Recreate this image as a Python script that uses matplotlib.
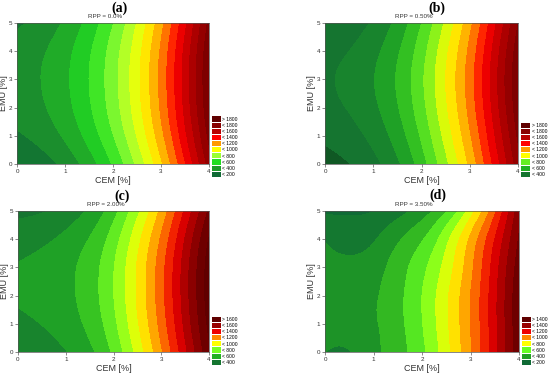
import numpy as np
import matplotlib
matplotlib.use("Agg")
import matplotlib.pyplot as plt
import matplotlib.tri as mtri
from matplotlib.colors import to_rgb
from matplotlib.patches import Patch

plt.rcParams['font.family'] = ['Liberation Sans', 'DejaVu Sans']

# grid: columns = CEM, rows = EMU (bottom row first)
cem = [0, 0.5, 1, 1.5, 2, 2.5, 3, 3.5, 4]
emu = [0, 1, 2, 3, 4, 5]

# (a) RPP = 0.0%
z_a = [[100, 150, 230, 350, 510, 720, 980, 1290, 1640],
       [185, 235, 315, 435, 595, 805, 1065, 1375, 1725],
       [235, 285, 365, 485, 645, 855, 1115, 1425, 1775],
       [250, 300, 380, 500, 660, 870, 1130, 1440, 1790],
       [235, 285, 365, 485, 645, 855, 1115, 1425, 1775],
       [185, 235, 315, 435, 595, 805, 1065, 1375, 1725]]
tops_a = [200, 400, 600, 800, 1000, 1200, 1400, 1600, 1800]
cols_a = ['#0f6a35', '#1f9a2a', '#22dd22', '#99ff33', '#ffff00',
          '#ff9900', '#ff0000', '#b80000', '#880000', '#600000']

# (b) RPP = 0.50%
z_b = [[157, 197, 267, 382, 552, 772, 1022, 1322, 1652],
       [220, 260, 330, 445, 615, 835, 1085, 1385, 1715],
       [267, 307, 377, 492, 662, 882, 1132, 1432, 1762],
       [285, 325, 395, 510, 680, 900, 1150, 1450, 1780],
       [260, 300, 370, 485, 655, 875, 1125, 1425, 1755],
       [204, 244, 314, 429, 599, 819, 1069, 1369, 1699]]
tops_b = [400, 600, 800, 1000, 1200, 1400, 1600, 1800]
cols_b = ['#157530', '#22b022', '#66ee22', '#ffff00', '#ff9900',
          '#ff0000', '#b80000', '#880000', '#600000']

# (c) RPP = 2.00%
z_c = [[330, 350, 395, 475, 620, 835, 1085, 1375, 1675],
       [382, 402, 447, 527, 672, 887, 1137, 1427, 1727],
       [407, 427, 472, 552, 697, 912, 1162, 1452, 1752],
       [404, 424, 469, 549, 694, 909, 1159, 1449, 1749],
       [360, 380, 425, 505, 650, 865, 1115, 1405, 1705],
       [272, 292, 337, 417, 562, 777, 1027, 1317, 1617]]
tops_c = [400, 600, 800, 1000, 1200, 1400, 1600]
cols_c = ['#157530', '#22b022', '#77ff22', '#ffff00', '#ff8800',
          '#ee0000', '#990000', '#600000']

# (d) RPP = 3.50%
z_d = [[200, 195, 270, 360, 475, 665, 890, 1165, 1475],
       [230, 235, 285, 370, 495, 680, 900, 1170, 1480],
       [235, 245, 285, 370, 500, 680, 900, 1170, 1480],
       [220, 220, 255, 350, 470, 640, 870, 1150, 1450],
       [193, 165, 190, 285, 390, 570, 820, 1100, 1410],
       [85, 85, 100, 160, 250, 390, 650, 980, 1360]]
tops_d = [200, 400, 600, 800, 1000, 1200, 1400]
cols_d = ['#0f6a35', '#22a022', '#66ff22', '#ffff00', '#ff8800',
          '#ee0000', '#990000', '#600000']

levels = np.arange(0, 2001, 100)

W, H = 550, 375
fig = plt.figure(figsize=(W / 100, H / 100), dpi=100)


def px_rect(left, top, right, bottom):
    return [left / W, 1 - bottom / H, (right - left) / W, (bottom - top) / H]


def draw(rect, letter, letter_xy, rpp, z, tops, cols):
    ax = fig.add_axes(rect)
    X, Y = np.meshgrid(cem, emu)
    tri = mtri.Triangulation(X.ravel(), Y.ravel())
    tri_f, z_f = mtri.UniformTriRefiner(tri).refine_field(
        np.array(z, float).ravel(), subdiv=4)

    anchors = [t - 100 for t in tops] + [tops[-1] + 100]
    rgb = np.array([to_rgb(c) for c in cols])
    band_cols = []
    for lo in levels[:-1]:
        mid = lo + 50
        c = [np.interp(mid, anchors, rgb[:, k]) for k in range(3)]
        if mid < anchors[0] - 100:
            c = [v * 0.75 for v in c]
        band_cols.append(c)
    ax.tricontourf(tri_f, z_f, levels=levels, colors=band_cols)

    ax.set_xlim(0, 4)
    ax.set_ylim(0, 5)
    ax.set_xticks([0, 1, 2, 3, 4])
    ax.set_yticks([0, 1, 2, 3, 4, 5])
    ax.tick_params(labelsize=4.5, length=2, width=0.4, pad=1.5, colors='#333333')
    for s in ax.spines.values():
        s.set_linewidth(0.5)
        s.set_color('#555555')
    w_px = rect[2] * W
    h_px = rect[3] * H
    ax.set_xlabel('CEM [%]', fontsize=6.5, color='#333333')
    ax.xaxis.set_label_coords(0.5, -12 / h_px)
    ax.set_ylabel('EMU [%]', fontsize=6.5, color='#333333')
    ax.yaxis.set_label_coords(-9 / w_px, 0.5)

    # legend, top entry first
    labels = ['> %d' % tops[-1]] + ['< %d' % t for t in tops[::-1]]
    handles = [Patch(facecolor=c, edgecolor='none') for c in cols[::-1]]
    ax.legend(handles, labels, loc='lower left',
              bbox_to_anchor=(1 + 3 / w_px, -13 / h_px),
              fontsize=3.6, frameon=False, handlelength=1.8, handleheight=1.2,
              labelspacing=0.18, borderpad=0, borderaxespad=0, handletextpad=0.3)

    x0, y0, w, h = rect
    fig.text(x0 + w / 2 - 8 / W, y0 + h + 6 / H, 'RPP = ' + rpp,
             fontsize=4.5, ha='center', va='center', color='#333333')
    fig.text(letter_xy[0] / W, 1 - letter_xy[1] / H, letter,
             family=['Liberation Serif', 'DejaVu Serif'], fontweight='bold',
             fontsize=10, ha='center', va='center')


draw(px_rect(17, 23, 209, 164), '(a)', (120, 8), '0.0%', z_a, tops_a, cols_a)
draw(px_rect(325, 23, 518, 164), '(b)', (437, 8), '0.50%', z_b, tops_b, cols_b)
draw(px_rect(18, 211, 209, 352), '(c)', (122, 196), '2.00%', z_c, tops_c, cols_c)
draw(px_rect(325, 211, 519, 352), '(d)', (438, 195), '3.50%', z_d, tops_d, cols_d)

fig.savefig('out.png', dpi=100)
